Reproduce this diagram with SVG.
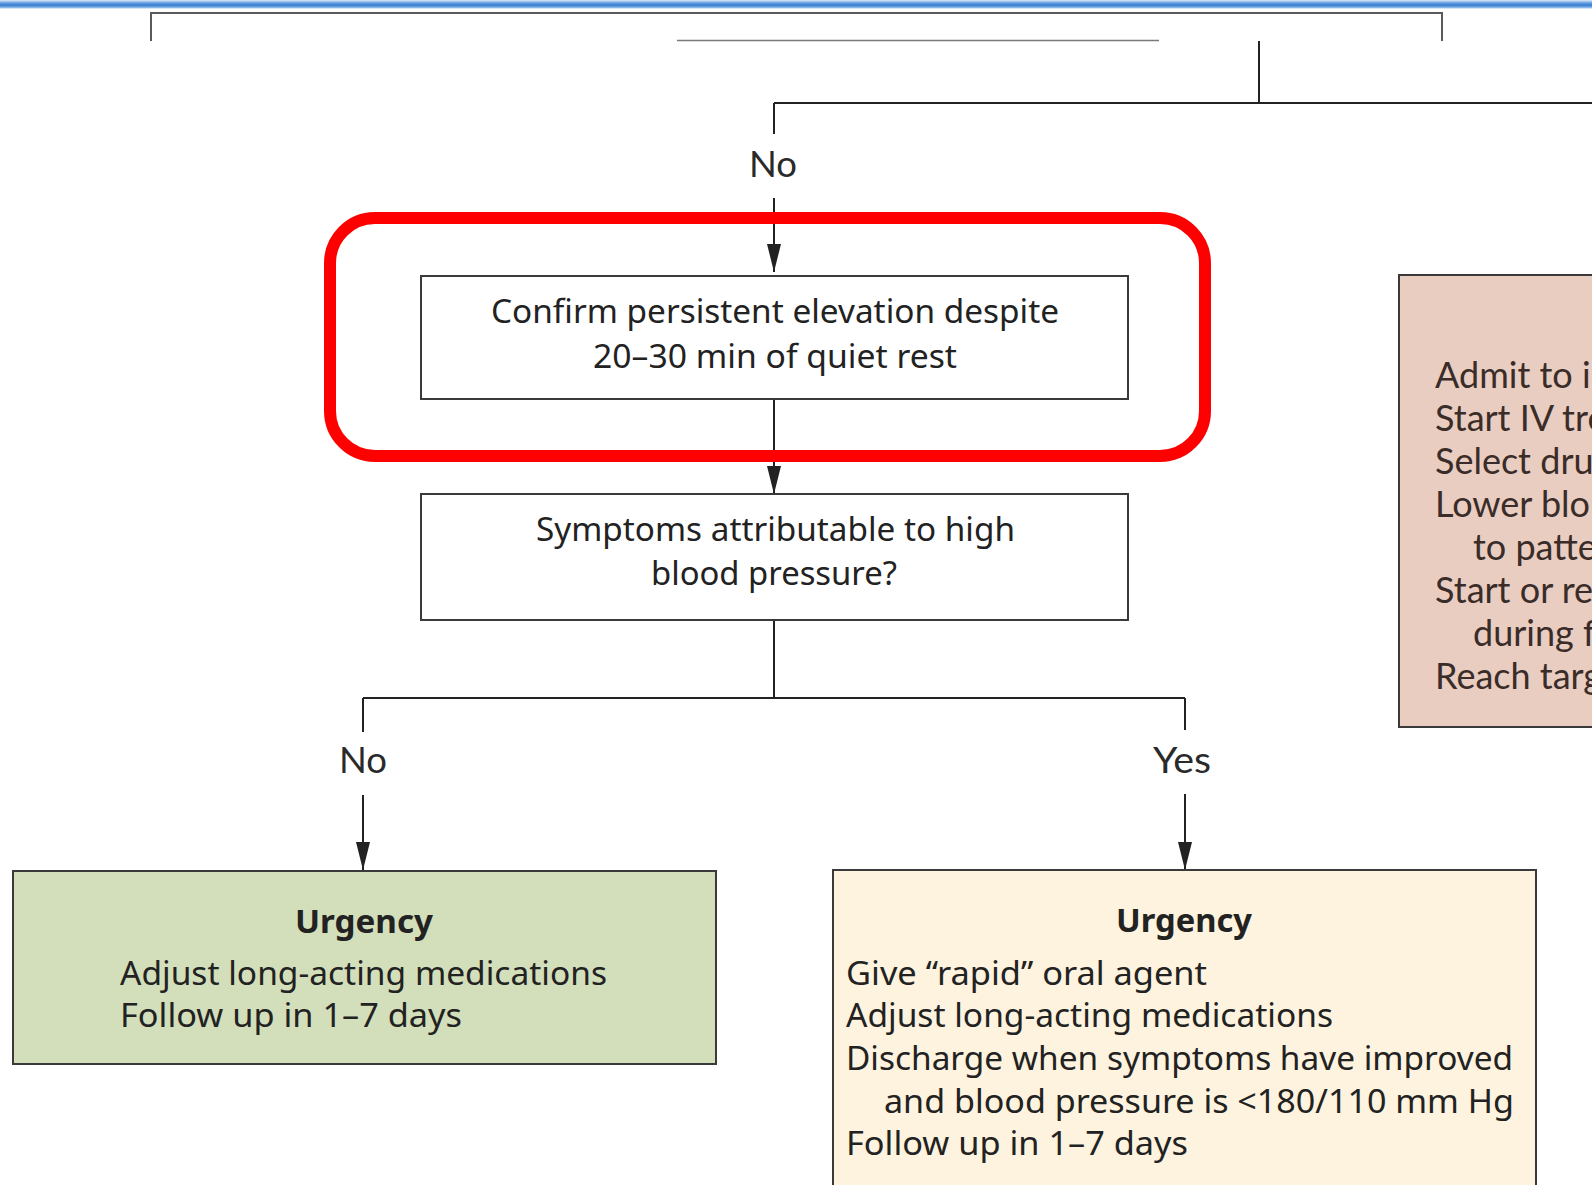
<svg xmlns="http://www.w3.org/2000/svg" width="1592" height="1185" viewBox="0 0 1592 1185">
  <defs>
    <linearGradient id="topBand" x1="0" y1="0" x2="0" y2="1">
      <stop offset="0" stop-color="#dfeaf7"/>
      <stop offset="0.35" stop-color="#5d9ade"/>
      <stop offset="0.6" stop-color="#3a7ed0"/>
      <stop offset="0.85" stop-color="#8dbbea"/>
      <stop offset="1" stop-color="#ffffff"/>
    </linearGradient>
    <marker id="arrow" viewBox="0 0 28 14" refX="28" refY="7" markerWidth="28" markerHeight="14" markerUnits="userSpaceOnUse" orient="auto">
      <path d="M0,0 L28,7 L0,14 Z" fill="#222"/>
    </marker>
    <style>
      .box { stroke: #3a3a3a; stroke-width: 2; }
      .plain { fill: #ffffff; }
      .green { fill: #d3deba; }
      .yellow { fill: #fdf3de; }
      .pink { fill: #e9cdc1; }
      .body { font-family: "Noto Sans", "Open Sans", sans-serif; font-size: 32px; fill: #222222; }
      .head { font-family: "Noto Sans", "Open Sans", sans-serif; font-size: 32px; font-weight: bold; fill: #222222; }
      .label { font-family: Lato, "Noto Sans", sans-serif; font-size: 36px; fill: #2a2a2a; }
      .side { font-family: Lato, "Noto Sans", sans-serif; font-size: 36px; fill: #3a2c28; }
      .wire { fill: none; stroke: #222; stroke-width: 2; }
      .frame { fill: none; stroke: #5a5a5a; stroke-width: 2; }
    </style>
  </defs>

  <rect width="1592" height="1185" fill="#ffffff"/>

  <!-- header band and upper frame -->
  <rect x="0" y="0" width="1592" height="9" fill="url(#topBand)"/>
  <path class="frame" d="M151,41 V13 H1442 V41"/>
  <line x1="677" y1="40.5" x2="1159" y2="40.5" stroke="#7a7a7a" stroke-width="1.5"/>

  <!-- connectors -->
  <g id="connectors">
    <path class="wire" d="M1259,41 V103"/>
    <path class="wire" d="M774,103 H1592"/>
    <path class="wire" d="M774,103 V134"/>
    <path class="wire" d="M774,198 V272" marker-end="url(#arrow)"/>
    <path class="wire" d="M774,399 V494" marker-end="url(#arrow)"/>
    <path class="wire" d="M774,620 V698"/>
    <path class="wire" d="M363,698 H1185"/>
    <path class="wire" d="M363,698 V732"/>
    <path class="wire" d="M363,795 V870" marker-end="url(#arrow)"/>
    <path class="wire" d="M1185,698 V730"/>
    <path class="wire" d="M1185,794 V870" marker-end="url(#arrow)"/>
    <text class="label" x="749" y="177" textLength="48" lengthAdjust="spacingAndGlyphs">No</text>
    <text class="label" x="339" y="773" textLength="48" lengthAdjust="spacingAndGlyphs">No</text>
    <text class="label" x="1153" y="773" textLength="58" lengthAdjust="spacingAndGlyphs">Yes</text>
  </g>

  <!-- decision steps -->
  <g id="confirm-elevation">
    <rect class="box plain" x="421" y="276" width="707" height="123"/>
    <text class="body" x="491" y="323" textLength="568" lengthAdjust="spacingAndGlyphs">Confirm persistent elevation despite</text>
    <text class="body" x="593" y="368" textLength="364" lengthAdjust="spacingAndGlyphs">20–30 min of quiet rest</text>
  </g>

  <g id="symptoms-question">
    <rect class="box plain" x="421" y="494" width="707" height="126"/>
    <text class="body" x="536" y="541" textLength="479" lengthAdjust="spacingAndGlyphs">Symptoms attributable to high</text>
    <text class="body" x="651" y="585" textLength="246" lengthAdjust="spacingAndGlyphs">blood pressure?</text>
  </g>

  <!-- outcomes -->
  <g id="urgency-no-symptoms">
    <rect class="box green" x="13" y="871" width="703" height="193"/>
    <text class="head" x="295" y="933" textLength="138" lengthAdjust="spacingAndGlyphs">Urgency</text>
    <text class="body" x="120" y="985" textLength="487" lengthAdjust="spacingAndGlyphs">Adjust long-acting medications</text>
    <text class="body" x="120" y="1027" textLength="342" lengthAdjust="spacingAndGlyphs">Follow up in 1–7 days</text>
  </g>

  <g id="urgency-symptoms">
    <rect class="box yellow" x="833" y="870" width="703" height="330"/>
    <text class="head" x="1116" y="932" textLength="136" lengthAdjust="spacingAndGlyphs">Urgency</text>
    <text class="body" x="846" y="985" textLength="361" lengthAdjust="spacingAndGlyphs">Give “rapid” oral agent</text>
    <text class="body" x="846" y="1027" textLength="487" lengthAdjust="spacingAndGlyphs">Adjust long-acting medications</text>
    <text class="body" x="846" y="1070" textLength="667" lengthAdjust="spacingAndGlyphs">Discharge when symptoms have improved</text>
    <text class="body" x="884" y="1113" textLength="630" lengthAdjust="spacingAndGlyphs">and blood pressure is &lt;180/110 mm Hg</text>
    <text class="body" x="846" y="1155" textLength="342" lengthAdjust="spacingAndGlyphs">Follow up in 1–7 days</text>
  </g>

  <g id="emergency-care">
    <rect class="box pink" x="1399" y="275" width="300" height="452"/>
    <text class="side" x="1435" y="388">Admit to i</text>
    <text class="side" x="1435" y="431">Start IV tre</text>
    <text class="side" x="1435" y="474">Select dru</text>
    <text class="side" x="1435" y="517">Lower blo</text>
    <text class="side" x="1473" y="560">to patte</text>
    <text class="side" x="1435" y="603">Start or re</text>
    <text class="side" x="1473" y="646">during f</text>
    <text class="side" x="1435" y="689">Reach targ</text>
  </g>

  <!-- highlight around the confirmation step -->
  <g id="highlight">
    <rect x="330" y="218" width="875" height="238" rx="45" ry="45" fill="none" stroke="#ff0000" stroke-width="12"/>
  </g>
</svg>
